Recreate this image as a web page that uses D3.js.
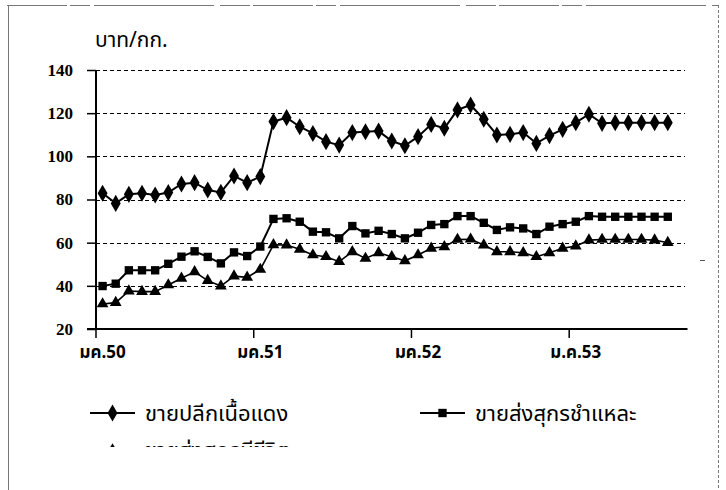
<!DOCTYPE html>
<html><head><meta charset="utf-8">
<script src="https://cdn.jsdelivr.net/npm/d3@7"></script>
<style>
body{margin:0;background:#fff;}
svg{display:block;}
.thai{font-family:"Noto Sans Thai","Noto Serif Thai","Garuda","Loma","Tlwg Typo","Kinnari","DejaVu Sans",sans-serif;}
</style></head>
<body>
<svg id="c" width="726" height="490"></svg>
<script>
const monthNames = ["ม.ค.","ก.พ.","มี.ค.","เม.ย.","พ.ค.","มิ.ย.","ก.ค.","ส.ค.","ก.ย.","ต.ค.","พ.ย.","ธ.ค."];
const years = ["50","51","52","53"];
const categoryCount = 45;
const tickLabels = ["มค.50","มค.51","มค.52","ม.ค.53"];
const yTicks = [20,40,60,80,100,120,140];
const seriesNames = ["ขายปลีกเนื้อแดง","ขายส่งสุกรชำแหละ","ขายส่งสุกรมีชีวิต"];
const retail = [82.9,78.2,82.4,82.9,82.1,83.2,87.2,87.8,84.4,83.3,90.9,87.8,90.6,116.1,117.9,113.7,110.6,106.8,105.2,111.0,111.4,111.7,107.1,104.9,109.1,114.8,113.0,121.5,123.8,117.2,109.9,110.2,111.0,106.0,109.6,112.5,115.6,119.5,115.3,115.6,115.6,115.6,115.6,115.6];
const carcass = [39.9,41.0,47.2,47.2,47.2,50.2,53.5,56.0,53.4,50.4,55.5,53.8,58.2,71.0,71.3,69.7,65.1,64.8,62.0,67.7,64.3,65.5,64.0,62.0,64.6,68.2,68.6,72.3,72.3,69.2,65.9,67.1,66.6,64.0,67.4,68.6,69.7,72.3,72.0,72.0,72.0,72.0,72.0,72.0];
const live = [31.6,32.2,37.6,37.3,37.3,40.4,43.5,46.5,42.4,39.9,44.5,43.9,47.6,59.0,58.9,56.9,54.3,53.5,51.2,55.8,52.7,55.3,53.5,51.6,54.3,57.4,58.1,61.5,61.6,58.9,55.8,55.8,55.3,53.5,55.3,57.4,58.4,61.2,61.5,61.5,61.5,61.5,61.2,60.0];

const categories = [];
for (let i = 0; i < categoryCount; i++) categories.push(monthNames[i % 12] + years[Math.floor(i / 12)]);

const svg = d3.select("#c");
const L = 96, R = 687.5, T = 70, B = 329;
const x = d3.scaleBand().domain(categories).range([L, R]).padding(0);
const xc = d => x(d) + x.bandwidth() / 2;
const y = d3.scaleLinear().domain([20, 140]).range([B, T]);

// outer frame (scanned look)
svg.append("line").attr("x1",7).attr("x2",719).attr("y1",5.5).attr("y2",5.5).attr("stroke","#777").attr("stroke-width",1).attr("stroke-dasharray","60,3,20,4,120,6,30,3");
svg.append("line").attr("x1",8.5).attr("x2",8.5).attr("y1",5).attr("y2",490).attr("stroke","#777").attr("stroke-width",1);
svg.append("line").attr("x1",718.5).attr("x2",718.5).attr("y1",5).attr("y2",490).attr("stroke","#777").attr("stroke-width",1).attr("stroke-dasharray","3,2");
svg.append("line").attr("x1",700).attr("x2",705).attr("y1",260.5).attr("y2",260.5).attr("stroke","#555");

// gridlines
svg.append("g").selectAll("line").data(yTicks.filter(t => t > 20)).join("line")
  .attr("x1", L).attr("x2", 685).attr("y1", d => Math.round(y(d)) + 0.5).attr("y2", d => Math.round(y(d)) + 0.5)
  .attr("stroke", "#000").attr("stroke-width", 1.2).attr("stroke-dasharray", "4,3");

// y axis
const yAxis = d3.axisLeft(y).tickValues(yTicks).tickSize(9).tickPadding(14).tickFormat(d3.format("d"));
const gy = svg.append("g").attr("transform", `translate(${L},0)`).call(yAxis);
gy.attr("font-family", null);
gy.select(".domain").attr("stroke", "#000").attr("stroke-width", 2).attr("d", `M0,${T}V${B}`);
gy.selectAll(".tick line").attr("stroke", "#000").attr("stroke-width", 1.5);
gy.selectAll(".tick text")
  .style("font-family", "'Liberation Serif', 'Times New Roman', serif")
  .style("font-weight", "bold").style("font-size", "17px").attr("fill", "#000");

// x axis
svg.append("line").attr("x1", 87).attr("x2", R).attr("y1", B).attr("y2", B).attr("stroke", "#000").attr("stroke-width", 2);
const tickIdx = [0, 12, 24, 36];
svg.append("g").selectAll("line").data(tickIdx).join("line")
  .attr("x1", i => x(categories[i])).attr("x2", i => x(categories[i]))
  .attr("y1", B).attr("y2", B + 9).attr("stroke", "#000").attr("stroke-width", 1.5);
svg.append("g").selectAll("text").data(tickIdx).join("text")
  .attr("class", "thai").attr("x", (i, k) => xc(categories[i])).attr("y", 358)
  .attr("text-anchor", "middle").attr("font-size", 17).attr("font-weight", "bold")
  .text((i, k) => tickLabels[k]);

// unit label
svg.append("text").attr("class", "thai").attr("x", 95).attr("y", 47).attr("font-size", 21).text("บาท/กก.");

// series
const series = [
  {vals: retail, sym: d3.symbolDiamond, size: 85, sw: 2},
  {vals: carcass, sym: d3.symbolSquare, size: 70, sw: 2},
  {vals: live, sym: d3.symbolTriangle, size: 60, sw: 1.6}
];
const line = d3.line().x((d, i) => xc(categories[i])).y(d => y(d));
series.forEach(s => {
  svg.append("path").datum(s.vals).attr("d", line).attr("fill", "none").attr("stroke", "#000").attr("stroke-width", s.sw);
  svg.append("g").selectAll("path").data(s.vals).join("path")
    .attr("transform", (d, i) => `translate(${xc(categories[i])},${y(d)})`)
    .attr("d", d3.symbol().type(s.sym).size(s.size)).attr("fill", "#000");
});

// legend
const legendPos = [[90, 413], [420, 413], [90, 450]];
svg.append("defs").append("clipPath").attr("id", "lc").append("rect").attr("x", 0).attr("y", 0).attr("width", 726).attr("height", 447);
const lg = svg.append("g").attr("clip-path", "url(#lc)");
series.forEach((s, k) => {
  const [lx, ly] = legendPos[k];
  const g = lg.append("g").attr("transform", `translate(${lx},${ly})`);
  g.append("line").attr("x1", 0).attr("x2", 45).attr("y1", 0).attr("y2", 0).attr("stroke", "#000").attr("stroke-width", 2);
  g.append("path").attr("transform", "translate(22.5,0)").attr("d", d3.symbol().type(s.sym).size(s.size)).attr("fill", "#000");
  g.append("text").attr("class", "thai").attr("x", 55).attr("y", 8).attr("font-size", 22).text(seriesNames[k]);
});
</script>
</body></html>
